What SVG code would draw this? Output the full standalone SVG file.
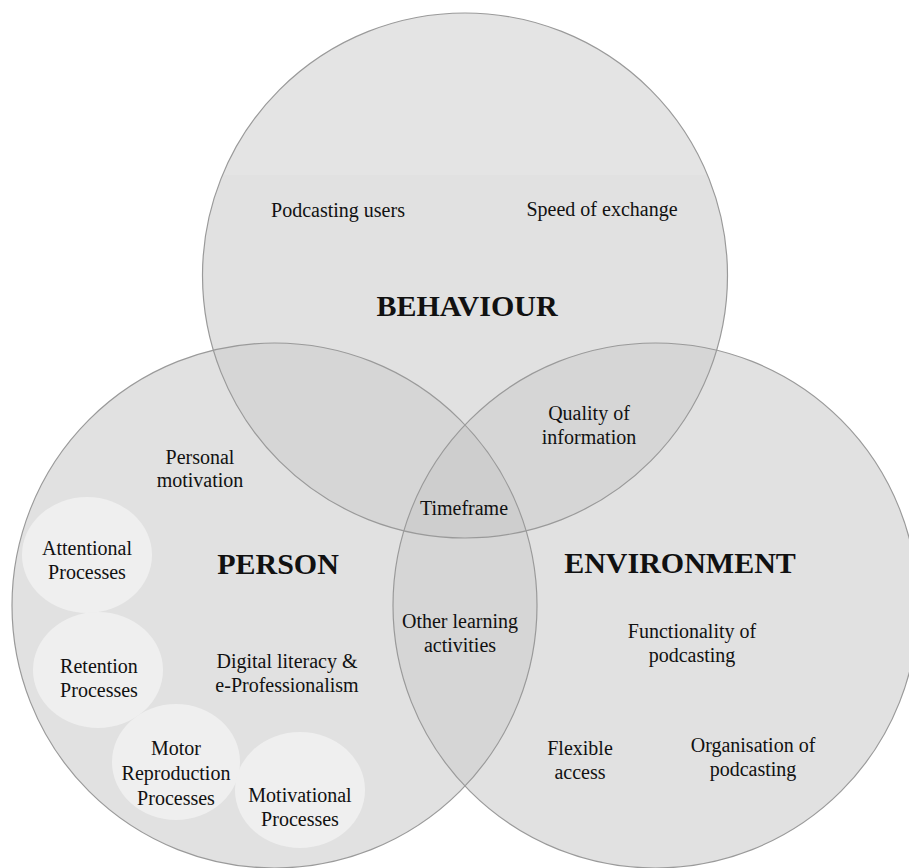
<svg xmlns="http://www.w3.org/2000/svg" width="909" height="868" viewBox="0 0 909 868">
<style>
.base{fill:#e1e1e1;stroke:none}
.two{fill:#d6d6d6;stroke:none}
.three{fill:#cecece;stroke:none}
.edge{fill:none;stroke:#9a9a9a;stroke-width:1.2}
.sub{fill:#efefef;stroke:none}
text{fill:#111;text-anchor:middle;dominant-baseline:central}
.lbl{font-size:20px}
.big{font-size:30px;font-weight:bold}
</style>
<defs>
<clipPath id="cP"><circle cx="274.5" cy="605.5" r="262.5"/></clipPath>
<clipPath id="cE"><circle cx="655.5" cy="605.5" r="262.5"/></clipPath>
<clipPath id="cB"><circle cx="465" cy="275.5" r="262.5"/></clipPath>
</defs>
<rect width="909" height="868" fill="#ffffff"/>
<g id="fills">
<circle class="base" cx="465" cy="275.5" r="262.5"/>
<circle class="base" cx="274.5" cy="605.5" r="262.5"/>
<circle class="base" cx="655.5" cy="605.5" r="262.5"/>
<circle class="two" cx="465" cy="275.5" r="262.5" clip-path="url(#cP)"/>
<circle class="two" cx="465" cy="275.5" r="262.5" clip-path="url(#cE)"/>
<circle class="two" cx="274.5" cy="605.5" r="262.5" clip-path="url(#cE)"/>
<g clip-path="url(#cP)"><circle class="three" cx="465" cy="275.5" r="262.5" clip-path="url(#cE)"/></g>
<rect x="0" y="0" width="909" height="175" fill="#ffffff" fill-opacity="0.12" clip-path="url(#cB)"/>
</g>
<g font-family="Liberation Serif, Times New Roman, serif">
<g id="behaviour">
<circle class="edge" cx="465" cy="275.5" r="262.5"/>
<text class="lbl" x="338" y="210">Podcasting users</text>
<text class="lbl" x="602" y="209">Speed of exchange</text>
<text class="big" x="467" y="305">BEHAVIOUR</text>
</g>
<g id="person">
<circle class="edge" cx="274.5" cy="605.5" r="262.5"/>
<text class="lbl" x="200" y="457">Personal</text>
<text class="lbl" x="200" y="480">motivation</text>
<text class="big" x="278" y="563">PERSON</text>
<text class="lbl" x="287" y="661">Digital literacy &amp;</text>
<text class="lbl" x="287" y="685">e-Professionalism</text>
</g>
<g id="environment">
<circle class="edge" cx="655.5" cy="605.5" r="262.5"/>
<text class="big" x="680" y="562">ENVIRONMENT</text>
<text class="lbl" x="692" y="631">Functionality of</text>
<text class="lbl" x="692" y="655">podcasting</text>
<text class="lbl" x="580" y="748">Flexible</text>
<text class="lbl" x="580" y="772">access</text>
<text class="lbl" x="753" y="745">Organisation of</text>
<text class="lbl" x="753" y="769">podcasting</text>
</g>
<g id="quality">
<text class="lbl" x="589" y="413">Quality of</text>
<text class="lbl" x="589" y="437">information</text>
</g>
<g id="timeframe">
<text class="lbl" x="464" y="508">Timeframe</text>
</g>
<g id="other-learning">
<text class="lbl" x="460" y="621">Other learning</text>
<text class="lbl" x="460" y="645">activities</text>
</g>
<g id="attentional">
<ellipse class="sub" cx="87" cy="555" rx="65" ry="58"/>
<text class="lbl" x="87" y="548">Attentional</text>
<text class="lbl" x="87" y="572">Processes</text>
</g>
<g id="retention">
<ellipse class="sub" cx="98" cy="670" rx="65" ry="58"/>
<text class="lbl" x="99" y="666">Retention</text>
<text class="lbl" x="99" y="690">Processes</text>
</g>
<g id="motor">
<ellipse class="sub" cx="176" cy="762" rx="64" ry="58"/>
<text class="lbl" x="176" y="748">Motor</text>
<text class="lbl" x="176" y="773">Reproduction</text>
<text class="lbl" x="176" y="798">Processes</text>
</g>
<g id="motivational">
<ellipse class="sub" cx="300" cy="790" rx="65" ry="58"/>
<text class="lbl" x="300" y="795">Motivational</text>
<text class="lbl" x="300" y="819">Processes</text>
</g>
</g>
<g id="connectors"></g>
</svg>
